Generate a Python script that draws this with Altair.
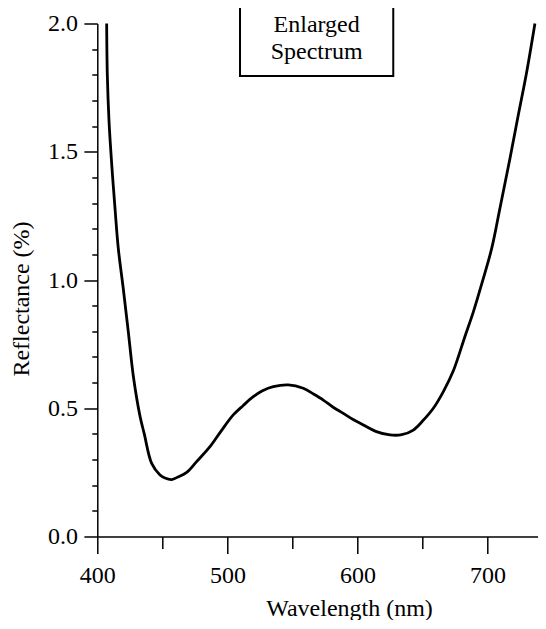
import json
import altair as alt
import pandas as pd

# ---- spectrum ----
wavelength = [407.2, 407.7, 409.0, 411.1, 413.6, 416.1, 420.0, 423.8, 427.7, 432.8,
              436.1, 441.8, 448.2, 452.0, 457.2, 462.0, 468.7, 476.0, 486.6, 495.0,
              504.5, 512.0, 519.9, 527.0, 535.3, 546.8, 558.3, 566.0, 573.7, 581.0,
              589.1, 597.0, 604.5, 614.0, 625.0, 634.0, 642.9, 650.0, 658.3, 666.0,
              673.6, 682.6, 689.0, 695.5, 703.2, 709.5, 717.2, 723.6, 730.1, 736.4]
reflectance = [2.00, 1.80, 1.62, 1.45, 1.28, 1.125, 0.965, 0.80, 0.625, 0.47,
               0.40, 0.285, 0.24, 0.228, 0.222, 0.232, 0.25, 0.29, 0.35, 0.41,
               0.474, 0.51, 0.545, 0.568, 0.584, 0.591, 0.578, 0.556, 0.532, 0.505,
               0.48, 0.455, 0.435, 0.41, 0.396, 0.397, 0.415, 0.45, 0.50, 0.565,
               0.645, 0.78, 0.875, 0.985, 1.124, 1.28, 1.474, 1.643, 1.812, 2.00]

# ---- axis ticks ----
x_major = [400, 500, 600, 700]
x_minor = [450, 550, 650]
y_major = [0.0, 0.5, 1.0, 1.5, 2.0]
y_minor = [0.1, 0.2, 0.3, 0.4, 0.6, 0.7, 0.8, 0.9, 1.1, 1.2, 1.3, 1.4,
           1.6, 1.7, 1.8, 1.9]
x_domain = [400, 738.6]
y_domain = [0.0, 2.0]

# ---- annotation box ----
box_lines = ["Enlarged", "Spectrum"]
box_line_y = [1.968, 1.860]
box_x = [509.7, 627.5]
box_y = [1.795, 2.3]
box_text_x = 568.6

FONT = "Liberation Serif"

df = pd.DataFrame({"wl": wavelength, "r": reflectance})
box_df = pd.DataFrame({"wl": [box_x[0]], "wl2": [box_x[1]], "r": [box_y[0]], "r2": [box_y[1]]})
txt_df = pd.DataFrame({"wl": [box_text_x] * len(box_lines), "r": box_line_y, "t": box_lines})

xs = alt.Scale(domain=x_domain, nice=False, zero=False)
ys = alt.Scale(domain=y_domain, nice=False, zero=False)

x_test = f"indexof({json.dumps(x_minor)}, datum.value) >= 0"
y_test = f"indexof({json.dumps(y_minor)}, datum.value) >= 0"

x_axis = alt.Axis(
    values=x_major + x_minor,
    tickSize={"condition": {"test": x_test, "value": 12}, "value": 17},
    labelExpr=f"{x_test} ? '' : format(datum.value, 'd')",
    labelFontSize=24, labelFont=FONT, labelColor="black",
    labelBaseline="alphabetic", labelPadding=29.5, labelFlush=False, labelOverlap=False,
    title="Wavelength (nm)", titleFont=FONT, titleFontSize=24, titleFontWeight="normal",
    titleColor="black", titleX=251.7, titleY=79, titleBaseline="alphabetic", titleAlign="center",
    domainColor="black", domainWidth=1.5, tickColor="black", tickWidth=1.5, grid=False,
)
y_axis = alt.Axis(
    values=y_major + y_minor,
    tickSize={"condition": {"test": y_test, "value": 5.5}, "value": 13.4},
    labelExpr=f"{y_test} ? '' : format(datum.value, '.1f')",
    labelFontSize=24, labelFont=FONT, labelColor="black",
    labelBaseline="middle", labelPadding=6.5, labelFlush=False, labelOverlap=False,
    title="Reflectance (%)", titleFont=FONT, titleFontSize=24, titleFontWeight="normal",
    titleColor="black", titleAngle=270, titleX=-69, titleY=275, titleBaseline="alphabetic",
    titleAlign="center",
    domainColor="black", domainWidth=1.5, tickColor="black", tickWidth=1.5, grid=False,
)

X = alt.X("wl:Q", scale=xs, axis=x_axis)
Y = alt.Y("r:Q", scale=ys, axis=y_axis)

line = alt.Chart(df).mark_line(color="black", strokeWidth=2.8, interpolate="catmull-rom").encode(
    x=X, y=Y,
)

box = alt.Chart(box_df).mark_rect(fillOpacity=0, stroke="black", strokeWidth=2, clip=False).encode(
    x=X, x2="wl2:Q", y=Y, y2="r2:Q",
)

text = alt.Chart(txt_df).mark_text(font=FONT, fontSize=24, color="black", align="center",
                                   baseline="alphabetic").encode(
    x=X, y=Y, text="t:N",
)

chart = alt.layer(line, box, text).properties(
    width=440.5, height=513,
    autosize=alt.AutoSizeParams(type="none"),
    padding={"left": 89.3, "top": 15.5, "right": 0, "bottom": 83},
    background="white",
).configure_view(strokeWidth=0)

chart.save("out.html", embed_options={"renderer": "svg", "actions": False})
